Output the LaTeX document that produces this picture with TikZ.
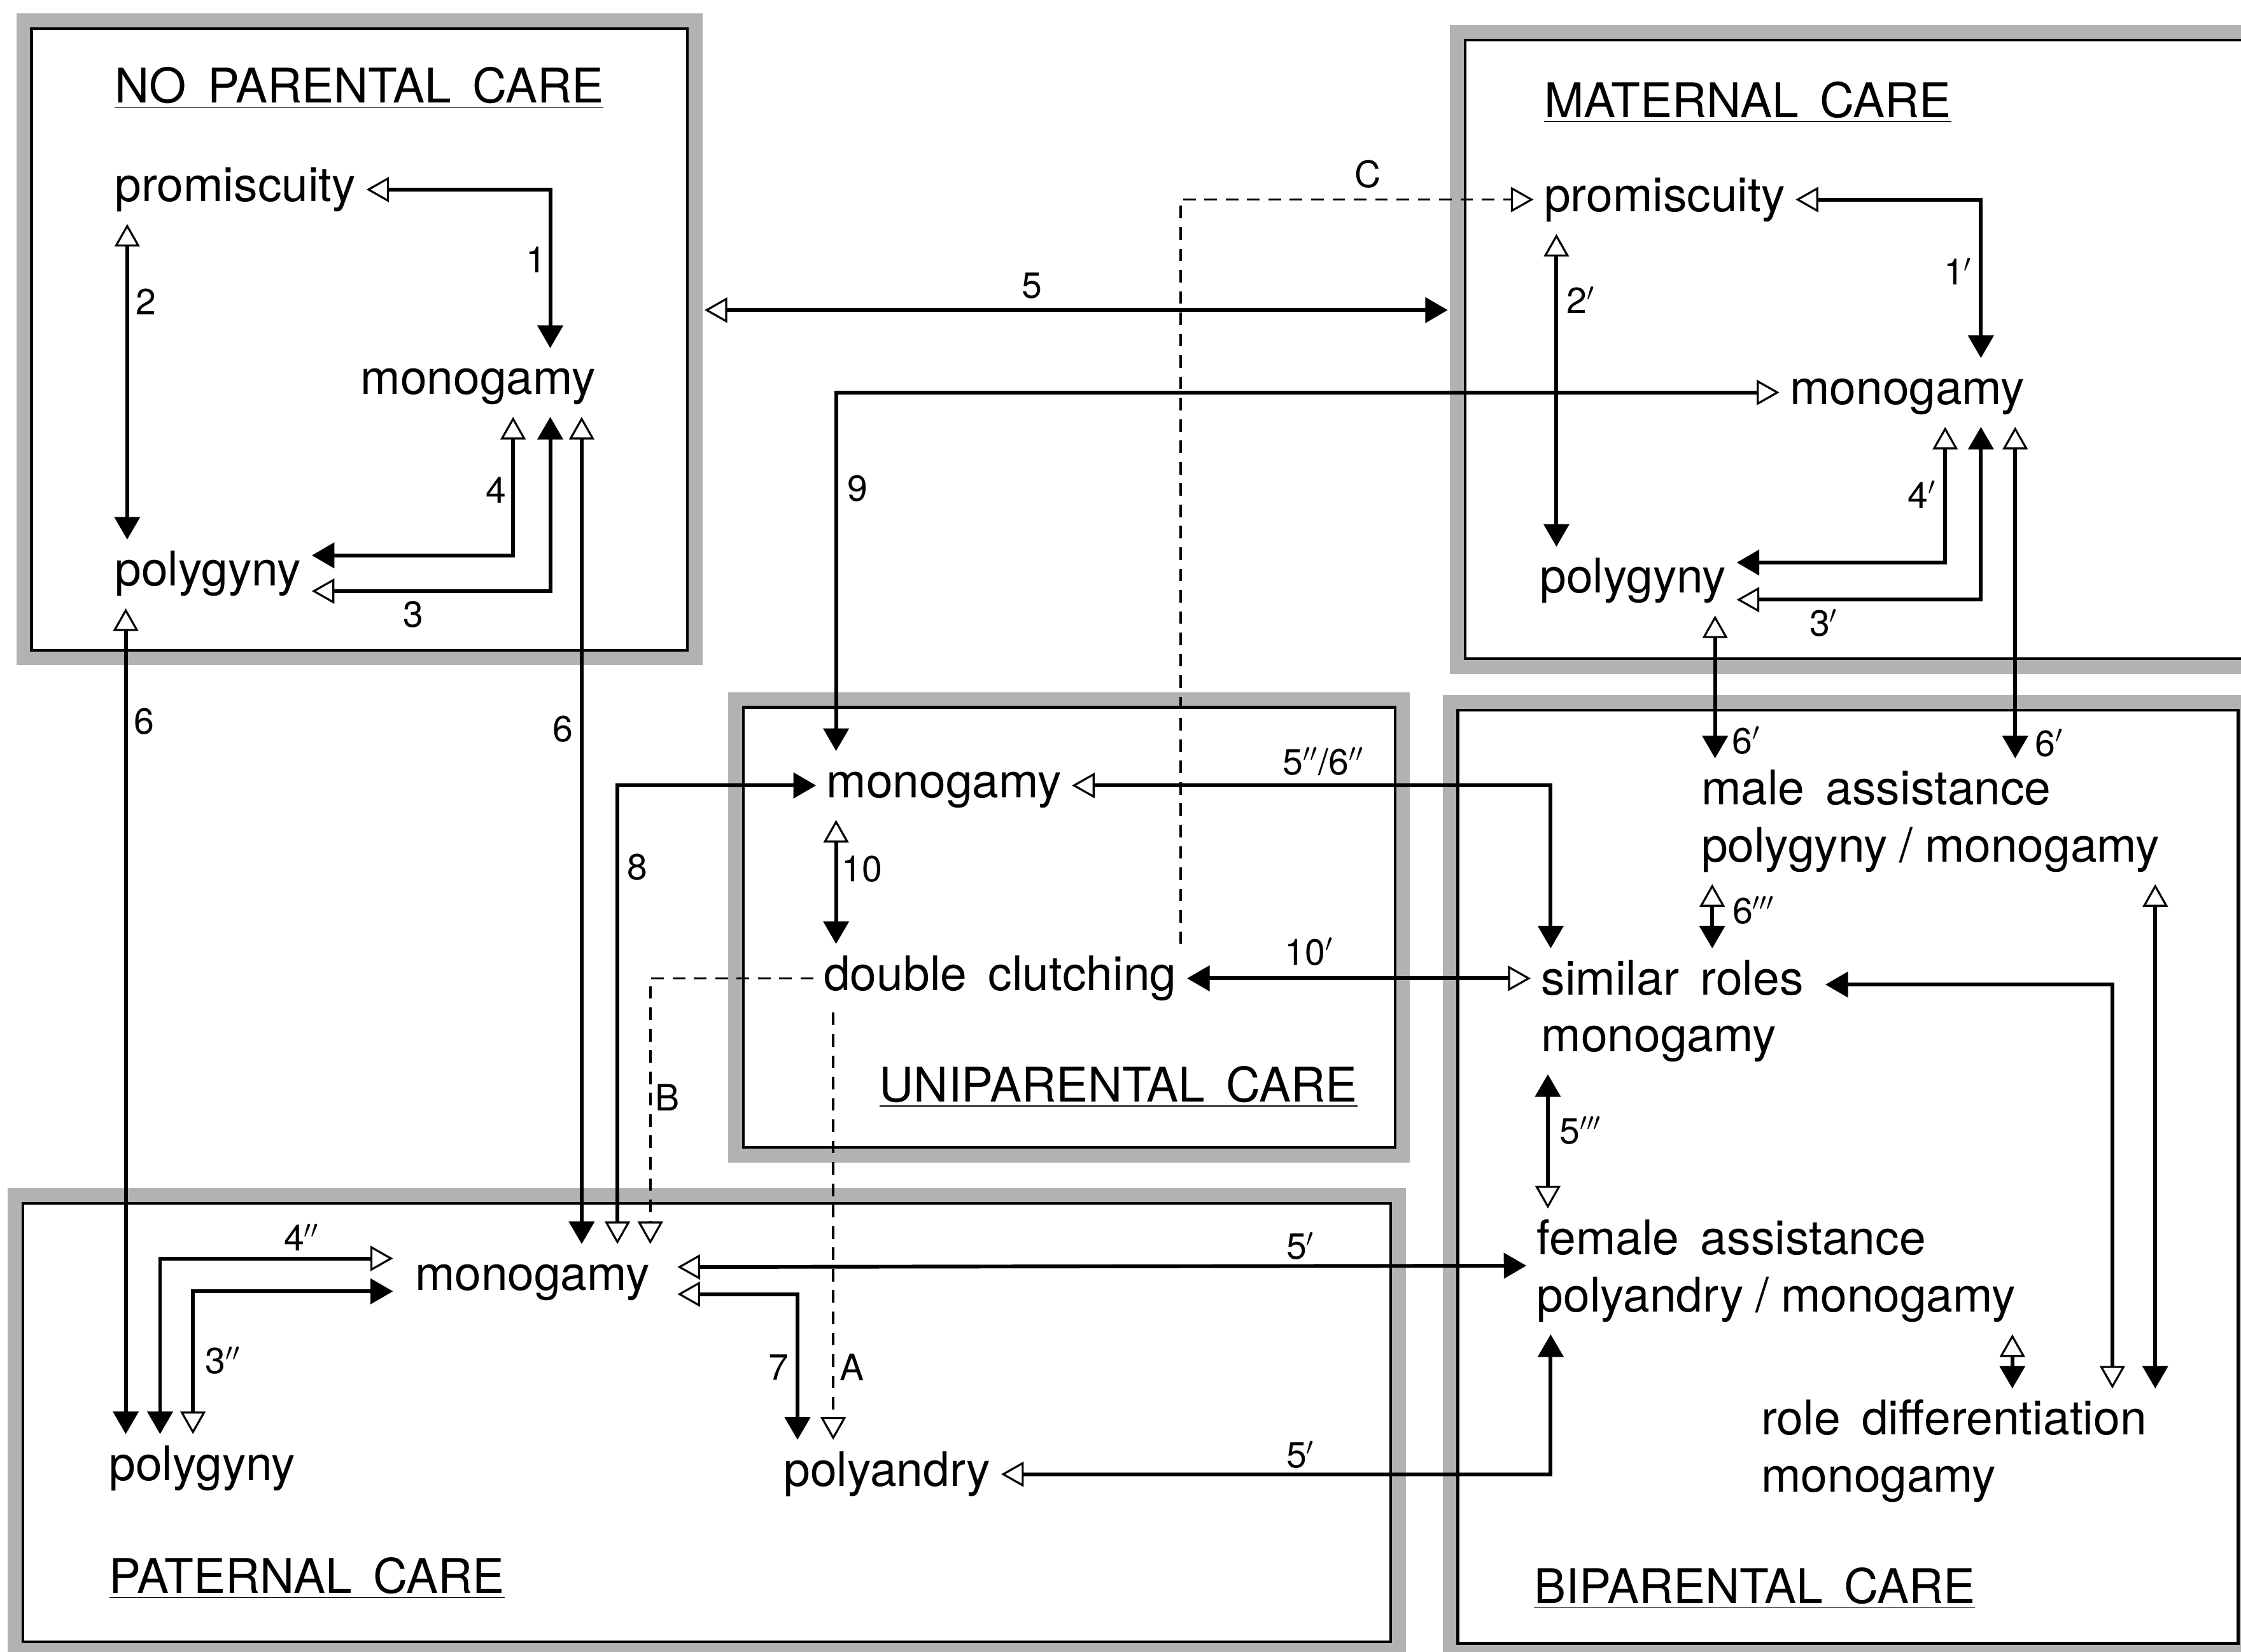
\documentclass[tikz,border=0pt]{standalone}
\usepackage{fontspec}
\setmainfont{TeX Gyre Heros}[WordSpace=1.6]
\usetikzlibrary{arrows.meta}
\newcommand{\wordsize}{\fontsize{19}{22.7}\selectfont}
\newcommand{\tagsize}{\fontsize{14.5}{16}\selectfont}
\tikzset{
  ftip/.tip={Triangle[length=9pt,width=10pt]},
  otip/.tip={Triangle[open,length=9pt,width=10pt,line width=0.8pt]},
  word/.style={font=\wordsize, anchor=base west, inner xsep=4pt, inner ysep=4pt,
    text height=14.25pt, text depth=4.75pt},
  pair/.style={word, align=left, text height=36.95pt},
  tag/.style={font=\tagsize, inner sep=1pt},
  link/.style={line width=1.5pt},
  dlink/.style={line width=0.9pt, dash pattern=on 5pt off 3.5pt},
  carebox/.style={draw, line width=1.1pt, fill=white,
    preaction={draw=black!30, line width=12pt}}
}
\begin{document}
\begin{tikzpicture}[x=0.02cm, y=-0.02cm]
  \useasboundingbox (0,0) rectangle (1568,1156);
  \clip (0,0) rectangle (1568,1156);
  \draw[carebox] (22,20) rectangle (481,455);
  \draw[carebox] (1025,28) rectangle (1620,461);
  \draw[carebox] (520,495) rectangle (976,803);
  \draw[carebox] (16,842) rectangle (973,1149);
  \draw[carebox] (1020,497) rectangle (1566,1150);
  \node[word] (npTitle) at (73,72) {\underline{NO PARENTAL CARE}};
  \node[word] (npProm) at (73,141) {promiscuity};
  \node[word] (npMono) at (245,276) {monogamy};
  \node[word] (npPoly) at (73,410) {polygyny};
  \node[word] (mcTitle) at (1073,82) {\underline{MATERNAL CARE}};
  \node[word] (mcProm) at (1073,148) {promiscuity};
  \node[word] (mcMono) at (1245,283) {monogamy};
  \node[word] (mcPoly) at (1070,415) {polygyny};
  \node[word] (ucMono) at (571,558) {monogamy};
  \node[word] (ucDouble) at (569,693) {double clutching};
  \node[word] (ucTitle) at (608,771) {\underline{UNIPARENTAL CARE}};
  \node[word] (pcMono) at (283,903) {monogamy};
  \node[word] (pcPoly) at (69,1036) {polygyny};
  \node[word] (pcPolya) at (541,1040) {polyandry};
  \node[word] (pcTitle) at (69,1115) {\underline{PATERNAL CARE}};
  \node[pair] (bcMale) at (1183,603) {male assistance\\polygyny\hspace{.25em}/\hspace{.25em}monogamy};
  \node[pair] (bcSimilar) at (1071,736) {similar roles\\monogamy};
  \node[pair] (bcFemale) at (1068,918) {female assistance\\polyandry\hspace{.25em}/\hspace{.25em}monogamy};
  \node[pair] (bcRole) at (1225,1044) {role differentiation\\monogamy};
  \node[word] (bcTitle) at (1066,1122) {\underline{BIPARENTAL CARE}};
  \coordinate (npEdge) at (493,217);
  \coordinate (mcEdge) at (1013,217);
  \draw[link, otip-ftip] (npProm.east) -| ([shift={(140,0)}]npMono.north west);
  \draw[link, otip-ftip] ([shift={(16,0)}]npProm.south west) -- ([shift={(16,0)}]npPoly.north west);
  \draw[link, otip-ftip] ([shift={(114,0)}]npMono.south west) |- ([shift={(0,-13)}]npPoly.east);
  \draw[link, ftip-otip] ([shift={(140,0)}]npMono.south west) |- ([shift={(0,12)}]npPoly.east);
  \draw[link, otip-ftip] ([shift={(162,0)}]npMono.south west) -- ([shift={(124,0)}]pcMono.north west);
  \draw[link, otip-ftip] ([shift={(15,0)}]npPoly.south west) -- ([shift={(19,0)}]pcPoly.north west);
  \draw[link, otip-ftip] (npEdge) -- (mcEdge);
  \draw[dlink, -otip] ([shift={(257,0)}]ucDouble.north west) |- (mcProm.west);
  \draw[link, ftip-otip] ([shift={(14,0)}]ucMono.north west) |- (mcMono.west);
  \draw[link, otip-ftip] (mcProm.east) -| ([shift={(141,0)}]mcMono.north west);
  \draw[link, otip-ftip] ([shift={(16,0)}]mcProm.south west) -- ([shift={(19,0)}]mcPoly.north west);
  \draw[link, otip-ftip] ([shift={(116,0)}]mcMono.south west) |- ([shift={(0,-13)}]mcPoly.east);
  \draw[link, ftip-otip] ([shift={(141,0)}]mcMono.south west) |- ([shift={(0,13)}]mcPoly.east);
  \draw[link, otip-ftip] ([shift={(130,0)}]mcPoly.south west) -- ([shift={(17,0)}]bcMale.north west);
  \draw[link, otip-ftip] ([shift={(165,0)}]mcMono.south west) -- ([shift={(227,0)}]bcMale.north west);
  \draw[link, otip-ftip] ([shift={(14,0)}]ucMono.south west) -- ([shift={(16,0)}]ucDouble.north west);
  \draw[link, otip-ftip] ([shift={(149,0)}]pcMono.north west) |- (ucMono.west);
  \draw[link, otip-ftip] (ucMono.east) -| ([shift={(14,0)}]bcSimilar.north west);
  \draw[link, ftip-otip] (ucDouble.east) -- (ucDouble.east -| bcSimilar.west);
  \draw[dlink, -otip] (ucDouble.west) -| ([shift={(172,0)}]pcMono.north west);
  \draw[dlink, -otip] ([shift={(14,0)}]ucDouble.south west) -- ([shift={(42,0)}]pcPolya.north west);
  \draw[link, ftip-otip] ([shift={(43,0)}]pcPoly.north west) |- ([shift={(-8,-14)}]pcMono.west);
  \draw[link, otip-ftip] ([shift={(66,0)}]pcPoly.north west) |- ([shift={(-8,9)}]pcMono.west);
  \draw[link, otip-ftip] ([shift={(12,-8)}]pcMono.east) -- ([shift={(0,-4)}]bcFemale.west);
  \draw[link, otip-ftip] ([shift={(12,11)}]pcMono.east) -| ([shift={(17,0)}]pcPolya.north west);
  \draw[link, otip-ftip] (pcPolya.east) -| ([shift={(17,0)}]bcFemale.south west);
  \draw[link, otip-ftip] ([shift={(15,0)}]bcMale.south west) -- ([shift={(127,0)}]bcSimilar.north west);
  \draw[link, ftip-otip] ([shift={(12,0)}]bcSimilar.south west) -- ([shift={(15,0)}]bcFemale.north west);
  \draw[link, ftip-otip] ([shift={(8,-47)}]bcSimilar.base east) -| ([shift={(253,0)}]bcRole.north west);
  \draw[link, otip-ftip] ([shift={(325,0)}]bcMale.south west) -- ([shift={(283,0)}]bcRole.north west);
  \draw[link, otip-ftip] ([shift={(340,0)}]bcFemale.south west) -- ([shift={(183,0)}]bcRole.north west);
  \node[tag] (t1) at (375,182) {1};
  \node[tag] (t2) at (102,211) {2};
  \node[tag] (t4) at (347,343) {4};
  \node[tag] (t3) at (289,430) {3};
  \node[tag] (t6a) at (101,505) {6};
  \node[tag] (t6b) at (394,510) {6};
  \node[tag] (t5) at (722,200) {5};
  \node[tag] (tC) at (957,122) {C};
  \node[tag] (t9) at (600,342) {9};
  \node[tag] (t1p) at (1370,190) {1$'$};
  \node[tag] (t2p) at (1106,210) {2$'$};
  \node[tag] (t4p) at (1345,346) {4$'$};
  \node[tag] (t3p) at (1276,436) {3$'$};
  \node[tag] (t6pa) at (1222,518) {6$'$};
  \node[tag] (t6pb) at (1434,520) {6$'$};
  \node[tag] (t56) at (926,533) {5$''$/6$''$};
  \node[tag] (t10) at (603,608) {10};
  \node[tag] (t8) at (446,607) {8};
  \node[tag] (t10p) at (916,666) {10$'$};
  \node[tag] (tB) at (467,768) {B};
  \node[tag] (t6ppp) at (1227,637) {6$'''$};
  \node[tag] (t5ppp) at (1106,791) {5$'''$};
  \node[tag] (t4pp) at (211,866) {4$''$};
  \node[tag] (t3pp) at (156,952) {3$''$};
  \node[tag] (t5pa) at (910,872) {5$'$};
  \node[tag] (t7) at (545,957) {7};
  \node[tag] (tA) at (596,957) {A};
  \node[tag] (t5pb) at (910,1018) {5$'$};
\end{tikzpicture}
\end{document}
